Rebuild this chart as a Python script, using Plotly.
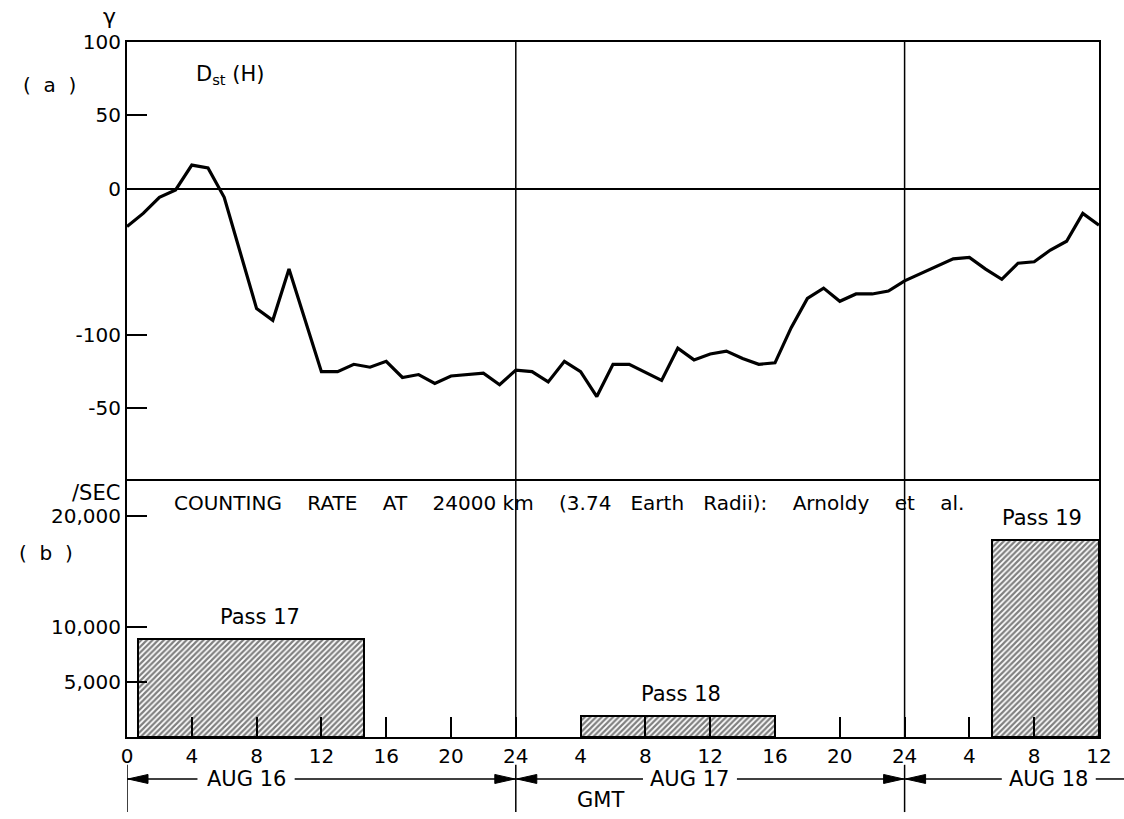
import plotly.graph_objects as go

# ---------------- data ----------------
# Panel (a): Dst(H) in gamma, hours since 00 GMT Aug 16
dst_hours = [0, 1, 2, 3, 4, 5, 6, 8, 9, 10, 12, 13, 14, 15, 16, 17, 18, 19, 20, 22,
             23, 24, 25, 26, 27, 28, 29, 30, 31, 33, 34, 35, 36, 37, 38, 39, 40, 41,
             42, 43, 44, 45, 46, 47, 48, 49, 50, 51, 52, 53, 54, 55, 56, 57, 58, 59, 60]
dst_values = [-26, -17, -6, -1, 16, 14, -6, -82, -90, -55, -125, -125, -120, -122, -118,
              -129, -127, -133, -128, -126, -134, -124, -125, -132, -118, -125, -142,
              -120, -120, -131, -109, -117, -113, -111, -116, -120, -119, -95, -75, -68,
              -77, -72, -72, -70, -63, -58, -53, -48, -47, -55, -62, -51, -50, -42, -36,
              -17, -25]

# Panel (b): counting rate passes
pass_names = ["Pass 17", "Pass 18", "Pass 19"]
pass_start = [0.65, 28.0, 53.4]
pass_end = [14.65, 40.0, 60.0]
pass_rate = [8900, 1900, 17800]
pass_label_x = [8.2, 34.2, 56.5]

# axis ticks
x_tickvals = [0, 4, 8, 12, 16, 20, 24, 28, 32, 36, 40, 44, 48, 52, 56, 60]
x_ticktext = ["0", "4", "8", "12", "16", "20", "24", "4", "8", "12", "16", "20", "24",
              "4", "8", "12"]
ya_tickvals = [100, 50, 0, -100, -150]
ya_ticktext = ["100", "50", "0", "-100", "-50"]
yb_tickvals = [5000, 10000, 20000]
yb_ticktext = ["5,000", "10,000", "20,000"]

# day spans (hours) and label positions
day_labels = ["AUG 16", "AUG 17", "AUG 18"]
day_start = [0, 24, 48]
day_end = [24, 48, 60]
day_label_x = [7.35, 34.75, 56.9]
day_gap = [3.0, 2.9, 2.9]   # half-width of the gap around each label, hours

FONT = "DejaVu Sans"
BLK = "black"
SP = "&nbsp;"

fig = go.Figure()

fig.add_trace(go.Scatter(x=dst_hours, y=dst_values, mode="lines",
                         line=dict(color=BLK, width=3.2), xaxis="x2", yaxis="y2",
                         showlegend=False, hoverinfo="skip"))

centers = [(s + e) / 2 for s, e in zip(pass_start, pass_end)]
widths = [e - s for s, e in zip(pass_start, pass_end)]
fig.add_trace(go.Bar(x=centers, y=pass_rate, width=widths, xaxis="x", yaxis="y",
                     marker=dict(color="white", line=dict(color=BLK, width=2),
                                 pattern=dict(shape="/", fgcolor=BLK, bgcolor="white",
                                              size=4, solidity=0.55)),
                     showlegend=False, hoverinfo="skip"))

split = 258 / 695
TF = dict(size=20)

fig.update_layout(
    width=1124, height=819,
    margin=dict(l=127, r=25, t=42, b=82),
    paper_bgcolor="white", plot_bgcolor="white",
    font=dict(family=FONT, color=BLK, size=20),
    bargap=0,
    xaxis=dict(domain=[0, 1], anchor="y", range=[0, 60], tickvals=x_tickvals,
               ticktext=x_ticktext, ticks="inside", ticklen=20, tickwidth=2,
               tickcolor=BLK, tickfont=TF,
               showline=True, linecolor=BLK, linewidth=2, mirror=False,
               showgrid=False, zeroline=False),
    yaxis=dict(domain=[0, split], anchor="x", range=[0, 23350], tickvals=yb_tickvals,
               ticktext=yb_ticktext, ticks="inside", ticklen=20, tickwidth=2,
               tickcolor=BLK, tickfont=TF,
               showline=True, linecolor=BLK, linewidth=2, mirror=True,
               showgrid=False, zeroline=False),
    xaxis2=dict(domain=[0, 1], anchor="y2", matches="x", range=[0, 60],
                showticklabels=False, ticks="",
                showline=True, linecolor=BLK, linewidth=2, mirror=True,
                showgrid=False, zeroline=False),
    yaxis2=dict(domain=[split, 1], anchor="x2", range=[-198.3, 100],
                tickvals=ya_tickvals, ticktext=ya_ticktext, ticks="inside",
                ticklen=20, tickwidth=2, tickcolor=BLK, tickfont=TF,
                showline=True, linecolor=BLK, linewidth=2, mirror=True,
                showgrid=False, zeroline=True, zerolinecolor=BLK, zerolinewidth=1.5),
)

ARROW_Y = -0.0604
shapes = []
# vertical day-boundary grid lines through both panels
for xv in [24, 48]:
    shapes.append(dict(type="line", xref="x", yref="paper", x0=xv, x1=xv, y0=0, y1=1,
                       line=dict(color=BLK, width=1.5), layer="above"))
# short vertical bars below the axis (day separators)
for xv in day_start:
    shapes.append(dict(type="line", xref="x", yref="paper", x0=xv, x1=xv,
                       y0=-0.108, y1=-0.040, line=dict(color=BLK, width=1.5)))
# day span lines with arrowheads
for i, (s, e, c, g) in enumerate(zip(day_start, day_end, day_label_x, day_gap)):
    shapes.append(dict(type="line", xref="x", yref="paper", x0=s, x1=c - g,
                       y0=ARROW_Y, y1=ARROW_Y, line=dict(color=BLK, width=1.5)))
    if i < 2:
        shapes.append(dict(type="line", xref="x", yref="paper", x0=c + g, x1=e,
                           y0=ARROW_Y, y1=ARROW_Y, line=dict(color=BLK, width=1.5)))
    else:
        # open-ended trailing line running off past the right border
        shapes.append(dict(type="line", xref="paper", yref="paper",
                           x0=(c + g) / 60, x1=1.026,
                           y0=ARROW_Y, y1=ARROW_Y, line=dict(color=BLK, width=1.5)))
    # left-pointing head at the start of the span
    shapes.append(dict(type="path", xref="x", yref="paper", xsizemode="pixel",
                       ysizemode="pixel", xanchor=s, yanchor=ARROW_Y,
                       path="M 1,0 L 21,4.5 L 21,-4.5 Z",
                       fillcolor=BLK, line=dict(color=BLK, width=1)))
    if i < 2:
        shapes.append(dict(type="path", xref="x", yref="paper", xsizemode="pixel",
                           ysizemode="pixel", xanchor=e, yanchor=ARROW_Y,
                           path="M -1,0 L -21,4.5 L -21,-4.5 Z",
                           fillcolor=BLK, line=dict(color=BLK, width=1)))
fig.update_layout(shapes=shapes)

ann = []
def txt(x, y, s, xref="paper", yref="paper", size=20, xanchor="center",
        yanchor="middle", **kw):
    ann.append(dict(x=x, y=y, xref=xref, yref=yref, text=s, showarrow=False,
                    font=dict(family=FONT, size=size, color=BLK),
                    xanchor=xanchor, yanchor=yanchor, **kw))

txt(-0.0175, 1.037, "γ", size=22)
txt(-0.080, 0.938, "(" + SP * 2 + "a" + SP * 2 + ")", size=20)
txt(-0.083, 0.265, "(" + SP * 2 + "b" + SP * 2 + ")", size=20)
txt(0.069, 0.9525, "D<sub>st</sub> (H)", size=21, xanchor="left")
txt(-0.005, 0.351, "/SEC", size=21, xanchor="right")
gap = SP * 4
txt(0.046, 0.337,
    "COUNTING" + gap + "RATE" + gap + "AT" + gap + "24000 km" + gap + "(3.74" + SP * 3
    + "Earth" + SP * 3 + "Radii):" + gap + "Arnoldy" + gap + "et" + gap + "al.",
    size=20, xanchor="left")
for name, lx, r in zip(pass_names, pass_label_x, pass_rate):
    txt(lx, r, name, xref="x", yref="y", size=21, yshift=22)
for name, lx in zip(day_labels, day_label_x):
    txt(lx, ARROW_Y, name, xref="x", size=21)
txt(29.2, -0.091, "GMT", xref="x", size=21)

fig.update_layout(annotations=ann)

fig.write_html("out.html")
